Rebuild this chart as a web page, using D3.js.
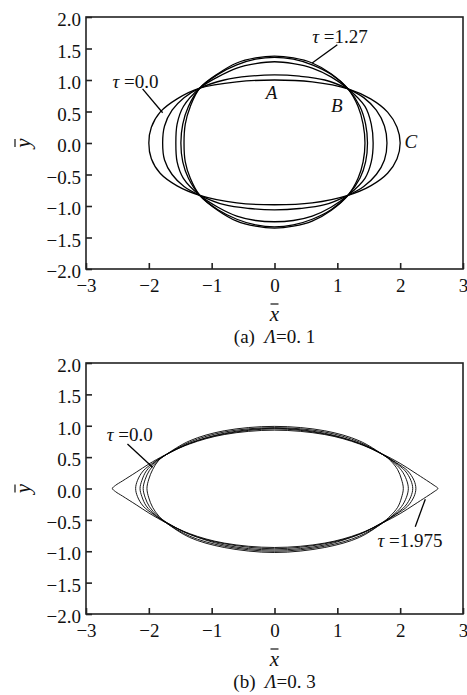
<!DOCTYPE html>
<html>
<head>
<meta charset="utf-8">
<script src="https://cdn.jsdelivr.net/npm/d3@7"></script>
<style>
  body { margin: 0; background: #fff; }
</style>
</head>
<body>
<div id="chart"></div>
<script>
// tick labels
var xTicks = [-3, -2, -1, 0, 1, 2, 3];
var yTicks = [2.0, 1.5, 1.0, 0.5, 0.0, -0.5, -1.0, -1.5, -2.0];

// panel (a), Λ=0.1 : curves (x, y)
var a_tau0 = [[2.0,0],[1.95,0.25],[1.8,0.49],[1.53,0.7],[1.17,0.86],[0.6,0.97],[0,1.0],[-0.6,0.97],[-1.19,0.87],[-1.55,0.7],[-1.82,0.49],[-1.96,0.25],[-2.0,0],[-1.96,-0.25],[-1.82,-0.48],[-1.55,-0.68],[-1.19,-0.83],[-0.6,-0.95],[0,-0.98],[0.6,-0.95],[1.17,-0.83],[1.53,-0.68],[1.8,-0.48],[1.95,-0.25]];
var a_tau1 = [[1.79,0],[1.75,0.27],[1.62,0.52],[1.42,0.72],[1.17,0.86],[0.8,1.0],[0.4,1.06],[0,1.08],[-0.4,1.06],[-0.8,1.0],[-1.19,0.87],[-1.44,0.72],[-1.63,0.52],[-1.75,0.27],[-1.78,0],[-1.75,-0.27],[-1.63,-0.5],[-1.44,-0.69],[-1.19,-0.83],[-0.8,-0.98],[-0.4,-1.04],[0,-1.06],[0.4,-1.04],[0.8,-0.98],[1.17,-0.83],[1.42,-0.69],[1.62,-0.5],[1.75,-0.27]];
var a_tau2 = [[1.57,0],[1.54,0.3],[1.44,0.58],[1.17,0.86],[0.9,1.05],[0.6,1.19],[0.3,1.26],[0,1.29],[-0.3,1.26],[-0.6,1.19],[-0.9,1.05],[-1.19,0.87],[-1.45,0.58],[-1.55,0.3],[-1.57,0],[-1.55,-0.3],[-1.45,-0.56],[-1.19,-0.83],[-0.9,-1.02],[-0.6,-1.16],[-0.3,-1.23],[0,-1.25],[0.3,-1.23],[0.6,-1.16],[0.9,-1.02],[1.17,-0.83],[1.44,-0.56],[1.54,-0.3]];
var a_tau3 = [[1.48,0],[1.45,0.3],[1.36,0.58],[1.17,0.86],[0.9,1.09],[0.6,1.24],[0.3,1.33],[0,1.36],[-0.3,1.33],[-0.6,1.24],[-0.9,1.09],[-1.19,0.87],[-1.37,0.58],[-1.46,0.3],[-1.49,0],[-1.46,-0.3],[-1.37,-0.56],[-1.19,-0.83],[-0.9,-1.06],[-0.6,-1.21],[-0.3,-1.3],[0,-1.33],[0.3,-1.3],[0.6,-1.21],[0.9,-1.06],[1.17,-0.83],[1.36,-0.56],[1.45,-0.3]];
var a_tau127 = [[1.44,0],[1.41,0.3],[1.33,0.58],[1.17,0.86],[0.9,1.1],[0.6,1.27],[0.3,1.35],[0,1.38],[-0.3,1.35],[-0.6,1.27],[-0.9,1.1],[-1.19,0.87],[-1.34,0.58],[-1.42,0.3],[-1.44,0],[-1.42,-0.3],[-1.34,-0.56],[-1.19,-0.83],[-0.9,-1.07],[-0.6,-1.24],[-0.3,-1.32],[0,-1.35],[0.3,-1.32],[0.6,-1.24],[0.9,-1.07],[1.17,-0.83],[1.33,-0.56],[1.41,-0.3]];

// panel (b), Λ=0.3
var b_tau1975 = [[2.6,0],[2.54,0.05],[2.42,0.13],[2.22,0.26],[2.0,0.4],[1.72,0.55],[1.35,0.72],[0.8,0.88],[0,0.96],[-0.8,0.88],[-1.35,0.72],[-1.75,0.53],[-2.0,0.39],[-2.2,0.26],[-2.42,0.12],[-2.53,0.05],[-2.58,0],[-2.53,-0.05],[-2.42,-0.12],[-2.2,-0.26],[-2.0,-0.39],[-1.72,-0.55],[-1.35,-0.73],[-0.8,-0.9],[0,-0.98],[0.8,-0.9],[1.35,-0.73],[1.72,-0.55],[2.0,-0.4],[2.22,-0.26],[2.42,-0.13],[2.54,-0.05]];
var b_tau1 = [[2.25,0],[2.22,0.13],[2.12,0.28],[1.94,0.41],[1.74,0.53],[1.35,0.72],[0.8,0.87],[0,0.95],[-0.8,0.87],[-1.35,0.72],[-1.74,0.53],[-1.93,0.41],[-2.09,0.28],[-2.18,0.13],[-2.21,0],[-2.18,-0.13],[-2.09,-0.28],[-1.93,-0.41],[-1.72,-0.54],[-1.35,-0.73],[-0.8,-0.88],[0,-0.96],[0.8,-0.88],[1.35,-0.73],[1.72,-0.54],[1.94,-0.41],[2.12,-0.28],[2.22,-0.13]];
var b_tau2 = [[2.2,0],[2.17,0.13],[2.08,0.28],[1.91,0.42],[1.74,0.53],[1.35,0.74],[0.8,0.9],[0,0.97],[-0.8,0.9],[-1.35,0.74],[-1.74,0.53],[-1.9,0.42],[-2.04,0.28],[-2.11,0.13],[-2.14,0],[-2.11,-0.13],[-2.04,-0.28],[-1.9,-0.42],[-1.72,-0.55],[-1.35,-0.76],[-0.8,-0.92],[0,-1.0],[0.8,-0.92],[1.35,-0.76],[1.72,-0.55],[1.91,-0.42],[2.08,-0.28],[2.17,-0.13]];
var b_tau3 = [[2.13,0],[2.1,0.14],[2.02,0.29],[1.88,0.43],[1.74,0.53],[1.35,0.76],[0.8,0.92],[0,0.99],[-0.8,0.92],[-1.35,0.76],[-1.74,0.53],[-1.87,0.43],[-1.99,0.29],[-2.06,0.14],[-2.09,0],[-2.06,-0.14],[-1.99,-0.29],[-1.87,-0.43],[-1.72,-0.55],[-1.35,-0.78],[-0.8,-0.94],[0,-1.02],[0.8,-0.94],[1.35,-0.78],[1.72,-0.55],[1.88,-0.43],[2.02,-0.29],[2.1,-0.14]];
var b_tau0 = [[2.05,0],[2.02,0.15],[1.96,0.3],[1.85,0.44],[1.74,0.53],[1.35,0.71],[0.8,0.86],[0,0.93],[-0.8,0.86],[-1.35,0.71],[-1.74,0.53],[-1.85,0.44],[-1.94,0.3],[-2.0,0.15],[-2.03,0],[-2.0,-0.15],[-1.94,-0.3],[-1.84,-0.44],[-1.72,-0.54],[-1.35,-0.72],[-0.8,-0.87],[0,-0.94],[0.8,-0.87],[1.35,-0.72],[1.72,-0.54],[1.84,-0.44],[1.96,-0.3],[2.02,-0.15]];

var FONT = "Liberation Serif, Tinos, Times New Roman, DejaVu Serif, serif";
var W = 467, H = 695;
var svg = d3.select("#chart").append("svg").attr("width", W).attr("height", H)
  .attr("font-family", FONT);

var left = 86, right = 463;
var x = d3.scaleLinear().domain([-3, 3]).range([left, right]);

function panel(top, bottom, curves, lw, labels, leaders, caption) {
  var y = d3.scaleLinear().domain([-2, 2]).range([bottom, top]);
  var g = svg.append("g").attr("font-family", FONT).attr("fill", "#111");

  var line = d3.line().x(function(d) { return x(d[0]); }).y(function(d) { return y(d[1]); })
    .curve(d3.curveCatmullRomClosed.alpha(0.5));

  g.selectAll("path.curve").data(curves).enter().append("path")
    .attr("class", "curve")
    .attr("d", line)
    .attr("fill", "none")
    .attr("stroke", "#000")
    .attr("stroke-width", lw);

  // frame
  g.append("rect").attr("x", left).attr("y", top)
    .attr("width", right - left).attr("height", bottom - top)
    .attr("fill", "none").attr("stroke", "#222").attr("stroke-width", 1.6);

  var xa = g.append("g").attr("transform", "translate(0," + bottom + ")")
    .call(d3.axisBottom(x).tickValues(xTicks).tickSizeInner(-6).tickSizeOuter(0).tickPadding(10)
      .tickFormat(function(d) { return d3.format("d")(d).replace("-", "\u2212"); }));
  var ya = g.append("g").attr("transform", "translate(" + left + ",0)")
    .call(d3.axisLeft(y).tickValues(yTicks).tickSizeInner(-6).tickSizeOuter(0).tickPadding(5)
      .tickFormat(function(d) { return d3.format(".1f")(d).replace("-", "\u2212"); }));
  [xa, ya].forEach(function(a) {
    a.attr("font-family", FONT).attr("font-size", 19);
    a.select(".domain").remove();
    a.selectAll("line").attr("stroke", "#222").attr("stroke-width", 1.6);
    a.selectAll("text").attr("fill", "#111");
  });
  ya.selectAll("text").attr("dy", "0.45em");

  // axis titles with overbars
  var cx = x(0);
  g.append("text").attr("x", cx).attr("y", bottom + 52).attr("text-anchor", "middle")
    .attr("font-size", 21).attr("font-style", "italic").text("x");
  g.append("line").attr("x1", cx - 4).attr("x2", cx + 4)
    .attr("y1", bottom + 35).attr("y2", bottom + 35).attr("stroke", "#111").attr("stroke-width", 1.2);

  var yl = g.append("g").attr("transform", "translate(30," + y(0) + ") rotate(-90)");
  yl.append("text").attr("x", 0).attr("y", 0).attr("text-anchor", "middle")
    .attr("font-size", 21).attr("font-style", "italic").text("y");
  yl.append("line").attr("x1", -4).attr("x2", 4).attr("y1", -15).attr("y2", -15)
    .attr("stroke", "#111").attr("stroke-width", 1.2);

  // annotations
  labels.forEach(function(l) {
    var t = g.append("text").attr("x", x(l.x)).attr("y", y(l.y)).attr("font-size", 19);
    if (l.tau) {
      t.append("tspan").attr("font-style", "italic").text("\u03c4");
      t.append("tspan").text(" =" + l.text);
    } else {
      t.attr("font-style", "italic").text(l.text);
    }
  });
  leaders.forEach(function(s) {
    g.append("line").attr("x1", x(s[0])).attr("y1", y(s[1])).attr("x2", x(s[2])).attr("y2", y(s[3]))
      .attr("stroke", "#000").attr("stroke-width", 1.3);
  });

  // caption
  var c = g.append("text").attr("x", cx).attr("y", bottom + 74).attr("text-anchor", "middle").attr("font-size", 19);
  c.append("tspan").text(caption[0] + "\u00a0\u00a0");
  c.append("tspan").attr("font-style", "italic").text("\u039b");
  c.append("tspan").text(caption[1]);
}

panel(17, 269, [a_tau0, a_tau1, a_tau2, a_tau3, a_tau127], 1.3,
  [{x: -2.58, y: 0.87, text: "0.0", tau: true},
   {x: 0.60, y: 1.59, text: "1.27", tau: true},
   {x: -0.14, y: 0.70, text: "A"},
   {x: 0.90, y: 0.49, text: "B"},
   {x: 2.07, y: -0.08, text: "C"}],
  [[-2.10, 0.86, -1.78, 0.48], [1.0, 1.56, 0.6, 1.27]],
  ["(a)", "=0. 1"]);

panel(363, 614, [b_tau0, b_tau1, b_tau2, b_tau3, b_tau1975], 0.9,
  [{x: -2.67, y: 0.76, text: "0.0", tau: true},
   {x: 1.64, y: -0.93, text: "1.975", tau: true}],
  [[-2.34, 0.71, -1.94, 0.34], [2.24, -0.61, 2.40, -0.17]],
  ["(b)", "=0. 3"]);
</script>
</body>
</html>
